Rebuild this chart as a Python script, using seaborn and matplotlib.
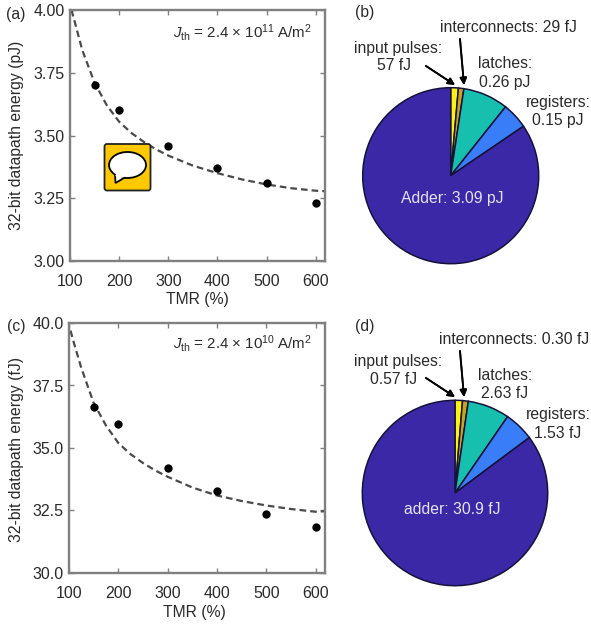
import numpy as np
import pandas as pd
import seaborn as sns
import matplotlib.pyplot as plt
from matplotlib.patches import FancyBboxPatch, Ellipse, Polygon

W, H = 591, 624

# measured points
tmr = [150, 200, 300, 400, 500, 600]
energy_a = [3.70, 3.60, 3.46, 3.37, 3.31, 3.23]
energy_c = [36.65, 35.97, 34.2, 33.3, 32.37, 31.85]

# dashed fit curves
fit_tmr = [103, 110, 125, 150, 175, 200, 225, 250, 275, 300, 350, 400, 450, 500, 550, 600, 620]
fit_a = [4.00, 3.95, 3.84, 3.71, 3.62, 3.555, 3.51, 3.475, 3.445, 3.42, 3.38, 3.35, 3.325, 3.305, 3.29, 3.28, 3.278]
fit_c = [39.7, 39.2, 38.2, 36.8, 35.9, 35.2, 34.75, 34.4, 34.1, 33.85, 33.42, 33.1, 32.88, 32.7, 32.56, 32.45, 32.47]

# pie slices, shares as drawn
slice_names = ['input pulses', 'interconnects', 'latches', 'registers', 'adder']
share_b = [1.4, 1.0, 8.3, 4.8, 84.5]
share_d = [1.3, 1.0, 7.3, 5.2, 85.2]
slice_colors = ['#FFF212', '#C9A41E', '#17BFAE', '#3A7DF8', '#3A28A6']

sns.set_theme(style='white')
plt.rcParams['font.family'] = ['Liberation Sans', 'DejaVu Sans']
plt.rcParams['mathtext.fontset'] = 'custom'
plt.rcParams['mathtext.rm'] = 'Liberation Sans'
plt.rcParams['mathtext.it'] = 'Liberation Sans:italic'
plt.rcParams['mathtext.default'] = 'regular'

INK = '#2A2A2A'
fig = plt.figure(figsize=(W / 100, H / 100), dpi=100, facecolor='white')


# everything below is placed in image pixels, y going down
def fx(x):
    return x / W


def fy(y):
    return 1 - y / H


def px_axes(left, top, right, bottom):
    return fig.add_axes([fx(left), fy(bottom), (right - left) / W, (bottom - top) / H])


def label(x, y, s, color=INK, size=11.3, ha='center'):
    fig.text(fx(x), fy(y), s, color=color, fontsize=size, ha=ha, va='center')


def arrow(x0, y0, x1, y1):
    fig.add_artist(plt.annotate('', xy=(fx(x1), fy(y1)), xytext=(fx(x0), fy(y0)),
                                xycoords='figure fraction', textcoords='figure fraction',
                                arrowprops=dict(arrowstyle='-|>', color='black', lw=1.3,
                                                mutation_scale=10, shrinkA=0, shrinkB=0)))


def line_panel(box, ys, fit, ylim, yticks, fmt, ylabel, ylabel_y, xlabel_x, xlabel_y, note, note_y):
    ax = px_axes(*box)
    sns.lineplot(x=fit_tmr, y=fit, ax=ax, color='#4A4A4A', lw=1.6, linestyle=(0, (3.0, 1.8)),
                 errorbar=None, sort=False)
    sns.scatterplot(x=tmr, y=ys, ax=ax, color='black', s=36, edgecolor='black', linewidth=0, zorder=3)
    ax.set_xlim(100, 619)
    ax.set_ylim(*ylim)
    ax.set_xticks([100, 200, 300, 400, 500, 600])
    ax.set_yticks(yticks)
    ax.set_yticklabels([fmt % t for t in yticks])
    ax.tick_params(direction='in', length=3.5, width=1, color='#808080', top=True, right=True,
                   bottom=True, left=True, labelsize=11.5, labelcolor=INK, pad=4)
    ax.tick_params(axis='x', pad=9)
    for sp in ax.spines.values():
        sp.set_color('#808080')
        sp.set_linewidth(1.7)
    ax.set_xlabel('TMR (%)', fontsize=11.3, color=INK)
    ax.set_ylabel(ylabel, fontsize=11.3, color=INK)
    ax.xaxis.set_label_coords(fx(xlabel_x), fy(xlabel_y), transform=fig.transFigure)
    ax.yaxis.set_label_coords(fx(17), fy(ylabel_y), transform=fig.transFigure)
    ax.xaxis.label.set_va('center')
    ax.yaxis.label.set_va('center')
    label(173, note_y, note, size=10.8, ha='left')
    return ax


def pie_panel(cx, cy, r, shares):
    ax = px_axes(cx - r - 2, cy - r - 2, cx + r + 2, cy + r + 2)
    ax.pie(shares, colors=slice_colors, startangle=90, counterclock=False, radius=1,
           wedgeprops=dict(edgecolor='#14123A', linewidth=1.1))
    lim = (r + 2) / r
    ax.set_xlim(-lim, lim)
    ax.set_ylim(-lim, lim)
    return ax


line_panel((70, 10, 325, 261), energy_a, fit_a, (3, 4), [3.00, 3.25, 3.50, 3.75, 4.00], '%.2f',
           '32-bit datapath energy (pJ)', 135, 197, 299, r'$\mathit{J}_{th}$ = 2.4 × 10$^{11}$ A/m$^{2}$', 32)
line_panel((69, 323, 325, 573), energy_c, fit_c, (30, 40), [30.0, 32.5, 35.0, 37.5, 40.0], '%.1f',
           '32-bit datapath energy (fJ)', 450, 194, 612, r'$\mathit{J}_{th}$ = 2.4 × 10$^{10}$ A/m$^{2}$', 344)

pie_panel(450.7, 175.7, 88, share_b)
pie_panel(455, 493, 92.7, share_d)

# comment icon sitting on panel (a)
overlay = fig.add_axes([0, 0, 1, 1], zorder=10)
overlay.set_xlim(0, W)
overlay.set_ylim(H, 0)
overlay.axis('off')
overlay.patch.set_alpha(0)
overlay.add_patch(FancyBboxPatch((104.5, 144), 46, 46.5, boxstyle='round,pad=0,rounding_size=2.5',
                                 fc='#FFC800', ec='#222222', lw=1.3))
overlay.add_patch(Polygon([[115, 174], [115.5, 183], [129, 175]], closed=True, fc='white', ec='black', lw=1.3))
overlay.add_patch(Ellipse((127.5, 165), 37, 26, fc='white', ec='black', lw=1.3))
overlay.add_patch(Ellipse((120, 175.5), 9, 5, fc='white', ec='none'))

# panel letters
label(16, 14, '(a)')
label(365, 12, '(b)')
label(16, 327, '(c)')
label(365, 326, '(d)')

# pie (b) labels
label(508, 28, 'interconnects: 29 fJ')
label(398, 48, 'input pulses:')
label(394, 66, '57 fJ')
label(505, 63, 'latches:')
label(505, 82, '0.26 pJ')
label(558, 103, 'registers:')
label(558, 121, '0.15 pJ')
label(452, 198, 'Adder: 3.09 pJ', color='#E4E2F4')
arrow(426, 66, 455, 85)
arrow(460, 39, 464, 85)

# pie (d) labels
label(514, 340, 'interconnects: 0.30 fJ')
label(398, 361, 'input pulses:')
label(394, 379, '0.57 fJ')
label(505, 376, 'latches:')
label(505, 394, '2.63 fJ')
label(558, 415, 'registers:')
label(558, 433, '1.53 fJ')
label(452, 510, 'adder: 30.9 fJ', color='#E4E2F4')
arrow(426, 378, 455, 397)
arrow(460, 351, 464, 397)

plt.savefig('out.png', dpi=100)
plt.close()
